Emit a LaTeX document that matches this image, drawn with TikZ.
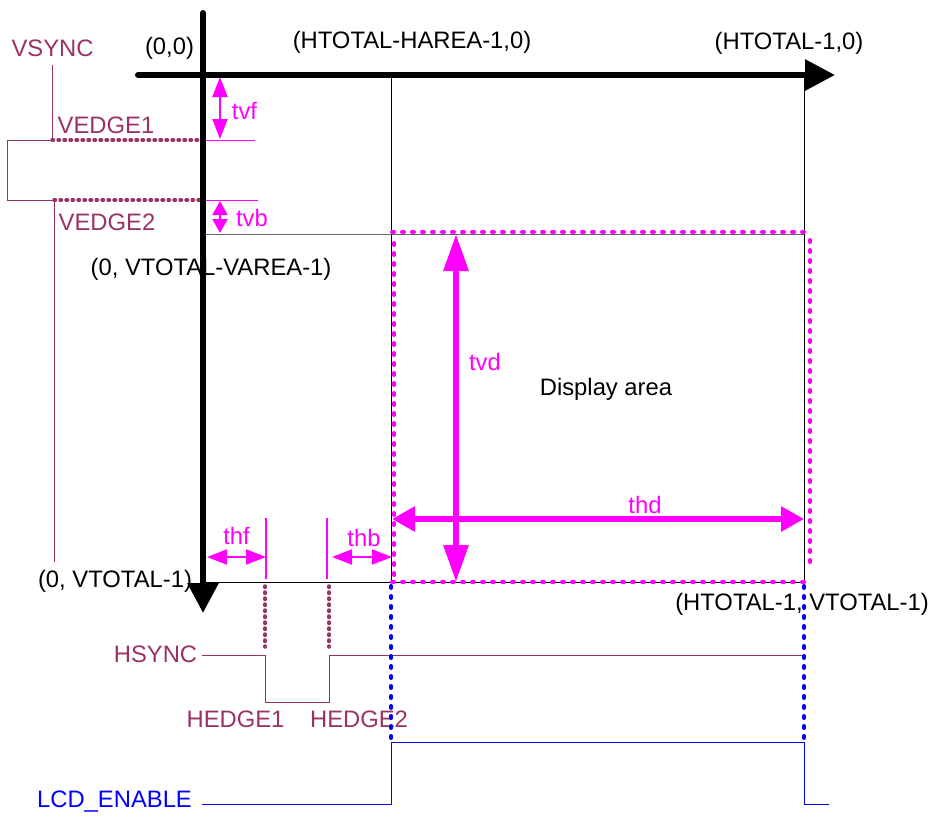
\documentclass[tikz,border=0pt]{standalone}
\usepackage{fontspec}
\setmainfont{Liberation Sans}
\usetikzlibrary{arrows.meta}
\definecolor{plum}{RGB}{153,51,102}
\definecolor{mag}{RGB}{255,0,255}
\definecolor{lcdblue}{RGB}{0,0,255}
\tikzset{
  axis/.style={line width=6pt, line cap=round, -{Triangle[length=30pt,width=30pt]}},
  grid/.style={line width=1pt},
  plumdot/.style={plum, line width=3.5pt, line cap=round, dash pattern=on 1.5pt off 4.5pt},
  magdot/.style={mag, line width=4pt, line cap=round, dash pattern=on 2pt off 8pt},
  bluedot/.style={lcdblue, line width=4pt, line cap=round, dash pattern=on 2pt off 8pt},
  vdim/.style={mag, line width=6pt, {Triangle[length=37pt,width=24pt]}-{Triangle[length=37pt,width=24pt]}},
  hdim/.style={mag, line width=6pt, {Triangle[length=23pt,width=24pt]}-{Triangle[length=23pt,width=24pt]}},
  tdim/.style={mag, line width=2pt, {Triangle[length=20pt,width=15pt]}-{Triangle[length=20pt,width=15pt]}},
  tdimshort/.style={mag, line width=2pt, {Triangle[length=14pt,width=15pt]}-{Triangle[length=14pt,width=15pt]}},
  lbl/.style={inner sep=0pt},
}
\begin{document}
\begin{tikzpicture}[x=1pt,y=-1pt,font=\fontsize{23.8}{28}\selectfont]
  \useasboundingbox (0,0) rectangle (936,816);
  % popisky souradnic
  \node[lbl] (p00) at (169.5,48) {(0,0)};
  \node[lbl] (pha) at (412,42) {(HTOTAL-HAREA-1,0)};
  \node[lbl] (pht) at (789,43) {(HTOTAL-1,0)};
  \node[lbl] (pva) at (211,269) {(0, VTOTAL-VAREA-1)};
  \node[lbl] (pvt) at (115,581) {(0, VTOTAL-1)};
  \node[lbl] (pend) at (802,604) {(HTOTAL-1, VTOTAL-1)};
  \node[lbl] (area) at (606,389) {Display area};
  % signaly
  \node[lbl, text=plum] (vsync) at (52.5,48.5) {VSYNC};
  \node[lbl, text=plum] (vedge1) at (106,125) {VEDGE1};
  \node[lbl, text=plum] (vedge2) at (107,222) {VEDGE2};
  \node[lbl, text=plum] (hsync) at (155.5,654) {HSYNC};
  \node[lbl, text=plum] (hedge1) at (235.5,719) {HEDGE1};
  \node[lbl, text=plum] (hedge2) at (359,719) {HEDGE2};
  \node[lbl, text=lcdblue] (lcd) at (114.5,802) {LCD\_ENABLE};
  % casovani
  \node[lbl, text=mag] (tvf) at (244.5,110.5) {tvf};
  \node[lbl, text=mag] (tvb) at (252,218) {tvb};
  \node[lbl, text=mag] (tvd) at (485,362) {tvd};
  \node[lbl, text=mag] (thd) at (645,505) {thd};
  \node[lbl, text=mag] (thf) at (236.5,535.5) {thf};
  \node[lbl, text=mag] (thb) at (364,538) {thb};

  % rohy
  \coordinate (o) at (203,75);
  \coordinate (ha) at (391,75);
  \coordinate (ht) at (804,75);
  \coordinate (va) at (203,234);
  \coordinate (vt) at (203,582);

  % mrizka
  \draw[grid] (ha) -- (ha |- vt);
  \draw[grid] (ht) -- (ht |- vt);
  \draw[grid, black!60] (va) -- (ht |- va);
  \draw[grid] (vt) -- (ht |- vt);

  % VSYNC
  \coordinate (ve1) at (52,140);
  \coordinate (ve2) at (54,200);
  \draw[grid, plum] (vsync.south -| ve1) ++(0,8) -- (ve1) -- (7,140) -- (7,200) -- (ve2) -- (54,562);
  \draw[plumdot] (ve1) -- ([xshift=-3pt]o |- ve1);
  \draw[plumdot] (ve2) -- ([xshift=-3pt]o |- ve2);
  \draw[grid, mag] (o |- ve1) -- (255,140);
  \draw[grid, mag] (o |- ve2) -- (258,200);
  \draw[tdim] (220,77) -- (220,139);
  \draw[tdimshort] (220,201) -- (220,233);

  % HSYNC
  \coordinate (he1) at (265,655);
  \coordinate (he2) at (329,655);
  \draw[grid, plum] (202,655) -- (he1) -- (265,702) -- (329,702) -- (he2) -- (ht |- he2);
  \draw[plumdot] (265,586) -- (he1 |- 0,647);
  \draw[plumdot] (329,586) -- (he2 |- 0,647);

  % LCD_ENABLE
  \coordinate (en1) at (391,742);
  \coordinate (en2) at (804,742);
  \draw[grid, lcdblue] (202,804) -- (en1 |- 0,804) -- (en1) -- (en2) -- (en2 |- 0,804) -- (829,804);
  \draw[bluedot] (391,586) -- (en1);
  \draw[bluedot] (804,586) -- (en2);

  % zobrazovaci oblast
  \draw[magdot] (392,232) -- (804,232);
  \draw[magdot] (394,243) -- (394,576);
  \draw[magdot] (392,582) -- (804,582);
  \draw[magdot] (810,240) -- (810,568);
  \draw[vdim] (456,234) -- (456,582);
  \draw[hdim] (392,519) -- (804,519);

  % thf, thb
  \draw[grid, mag, line width=1.5pt] (266,518) -- (266,579);
  \draw[grid, mag, line width=1.5pt] (327,518) -- (327,579);
  \draw[tdim] (207,557) -- (266,557);
  \draw[tdim] (332,557) -- (392,557);

  % osy
  \draw[axis] (138,75) -- (835,75);
  \draw[axis] (203,13) -- (203,613);
\end{tikzpicture}
\end{document}
